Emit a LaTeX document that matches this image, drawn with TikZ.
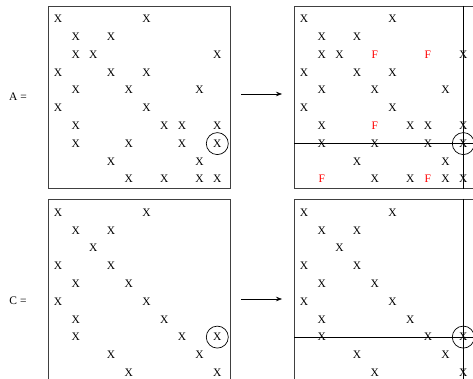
\documentclass[tikz,border=0pt]{standalone}
\usepackage{fontspec}
\setmainfont{Liberation Serif}
\usetikzlibrary{arrows.meta}
\begin{document}
\begin{tikzpicture}[x=1pt,y=-1pt,
  ent/.style={font=\fontsize{11.5}{12}\selectfont, inner sep=0pt, anchor=center},
  fent/.style={ent, text=red},
  box/.style={draw=black!75, line width=0.9pt, minimum width=182pt, minimum height=182pt, inner sep=0pt, anchor=north west},
  guide/.style={draw=black, line width=0.8pt},
  piv/.style={draw, circle, line width=0.7pt, minimum size=22pt, inner sep=0pt},
  lab/.style={font=\fontsize{11.5}{12}\selectfont, inner sep=0pt},
  arr/.style={-{Stealth[length=6pt,width=4.5pt,inset=2pt]}, line width=0.6pt}]
\useasboundingbox (0,0) rectangle (473,379);
\clip (0,0) rectangle (473,379);

% ---------- top left: A ----------
\begin{scope}[shift={(48,6)}]
  \node[box] (boxA) at (0,0) {};
  \foreach \r/\c in {0/0,0/5,1/1,1/3,2/1,2/2,2/9,3/0,3/3,3/5,4/1,4/4,4/8,5/0,5/5,6/1,6/6,6/7,6/9,7/1,7/4,7/7,7/9,8/3,8/8,9/4,9/6,9/8,9/9}
    \node[ent] (a-\r-\c) at ({10+17.7*\c},{13+17.8*\r}) {X};
\end{scope}
\node[piv] (circA) at (a-7-9) {};
\node[lab] (labA) at (18,97) {A =};

% ---------- top right ----------
\begin{scope}[shift={(294,6)}]
  \node[box] (boxB) at (0,0) {};
  \foreach \r/\c in {0/0,0/5,1/1,1/3,2/1,2/2,2/9,3/0,3/3,3/5,4/1,4/4,4/8,5/0,5/5,6/1,6/6,6/7,6/9,7/1,7/4,7/7,7/9,8/3,8/8,9/4,9/6,9/8,9/9}
    \node[ent] (b-\r-\c) at ({10+17.7*\c},{13+17.8*\r}) {X};
  \foreach \r/\c in {2/4,2/7,6/4,9/1,9/7}
    \node[fent] (bf-\r-\c) at ({10+17.7*\c},{13+17.8*\r}) {F};
\end{scope}
\draw[guide] (boxB.west |- b-7-9) -- (boxB.east |- b-7-9);
\draw[guide] (b-7-9 |- boxB.north) -- (b-7-9 |- boxB.south);
\node[piv] (circB) at (b-7-9) {};

\coordinate (arrA-s) at (241,94);
\coordinate (arrA-e) at (282,94);
\draw[arr] (arrA-s) -- (arrA-e);

% ---------- bottom left: C ----------
\begin{scope}[shift={(48,199)}]
  \node[box] (boxC) at (0,0) {};
  \foreach \r/\c in {0/0,0/5,1/1,1/3,2/2,3/0,3/3,4/1,4/4,5/0,5/5,6/1,6/6,7/1,7/7,7/9,8/3,8/8,9/4,9/9}
    \node[ent] (c-\r-\c) at ({10+17.7*\c},{13.5+17.8*\r}) {X};
\end{scope}
\node[piv] (circC) at (c-7-9) {};
\node[lab] (labC) at (18,301) {C =};

% ---------- bottom right ----------
\begin{scope}[shift={(294,199)}]
  \node[box] (boxD) at (0,0) {};
  \foreach \r/\c in {0/0,0/5,1/1,1/3,2/2,3/0,3/3,4/1,4/4,5/0,5/5,6/1,6/6,7/1,7/7,7/9,8/3,8/8,9/4,9/9}
    \node[ent] (d-\r-\c) at ({10+17.7*\c},{13.5+17.8*\r}) {X};
\end{scope}
\draw[guide] (boxD.west |- d-7-9) -- (boxD.east |- d-7-9);
\draw[guide] (d-7-9 |- boxD.north) -- (d-7-9 |- boxD.south);
\node[piv] (circD) at (d-7-9) {};

\coordinate (arrC-s) at (241,299);
\coordinate (arrC-e) at (282,299);
\draw[arr] (arrC-s) -- (arrC-e);
\end{tikzpicture}
\end{document}
